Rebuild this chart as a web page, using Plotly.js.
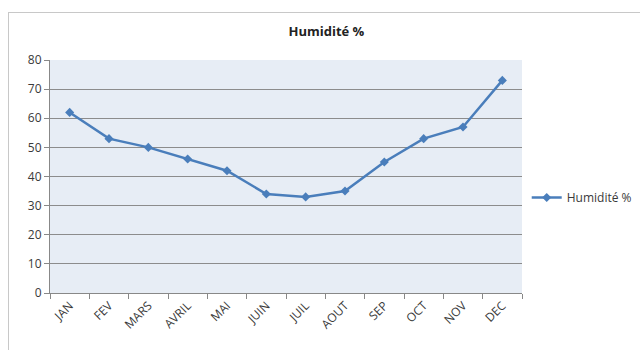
<!DOCTYPE html>
<html>
<head>
<meta charset="utf-8">
<script src="https://cdn.plot.ly/plotly-3.0.1.min.js"></script>
<style>
html,body{margin:0;padding:0;background:#fff;overflow:hidden;}
#wrap{position:relative;width:640px;height:350px;}
#frame{position:absolute;left:8px;top:12px;width:640px;height:350px;border:1px solid #c8c8c8;box-sizing:border-box;}
#chart{position:absolute;left:0;top:0;width:640px;height:350px;}
</style>
</head>
<body>
<div id="wrap"><div id="frame"></div><div id="chart"></div></div>
<script>
const months = ["JAN","FEV","MARS","AVRIL","MAI","JUIN","JUIL","AOUT","SEP","OCT","NOV","DEC"];
const humidity = [62,53,50,46,42,34,33,35,45,53,57,73];
const seriesName = "Humidité %";
const chartTitle = "Humidité %";

const trace = {
  x: months, y: humidity, name: seriesName, type: "scatter", mode: "lines+markers",
  line: {color: "#4a7ebb", width: 2.5},
  marker: {symbol: "diamond", size: 7, color: "#4a7ebb"},
  showlegend: true
};
const layout = {
  width: 640, height: 350,
  margin: {l: 50, r: 118, t: 60, b: 57, autoexpand: false},
  paper_bgcolor: "rgba(0,0,0,0)",
  plot_bgcolor: "#e7edf5",
  font: {family: "Open Sans, Liberation Sans, sans-serif", size: 12, color: "#404040"},
  title: {text: "<b>" + chartTitle + "</b>", x: 0.51, xref: "container", y: 0.91, yanchor: "middle", font: {size: 13, color: "#222"}},
  xaxis: {type: "category", tickangle: -45, ticks: "outside", tickson: "boundaries", ticklen: 5,
          tickcolor: "#888", showline: true, linecolor: "#888", showgrid: false, zeroline: false,
          range: [-0.5, 11.5], tickfont: {size: 12, color: "#3a3a3a"}},
  yaxis: {range: [0, 80], dtick: 10, ticks: "outside", ticklen: 5, tickcolor: "#888",
          showline: true, linecolor: "#888", gridcolor: "#8c8c8c", gridwidth: 1, zeroline: false,
          tickfont: {size: 12, color: "#3a3a3a"}},
  showlegend: true,
  legend: {x: 1.01, xanchor: "left", y: 0.41, yanchor: "middle", font: {size: 12, color: "#3a3a3a"},
           bgcolor: "rgba(0,0,0,0)", itemwidth: 30}
};
Plotly.newPlot("chart", [trace], layout, {staticPlot: true});
</script>
</body>
</html>
